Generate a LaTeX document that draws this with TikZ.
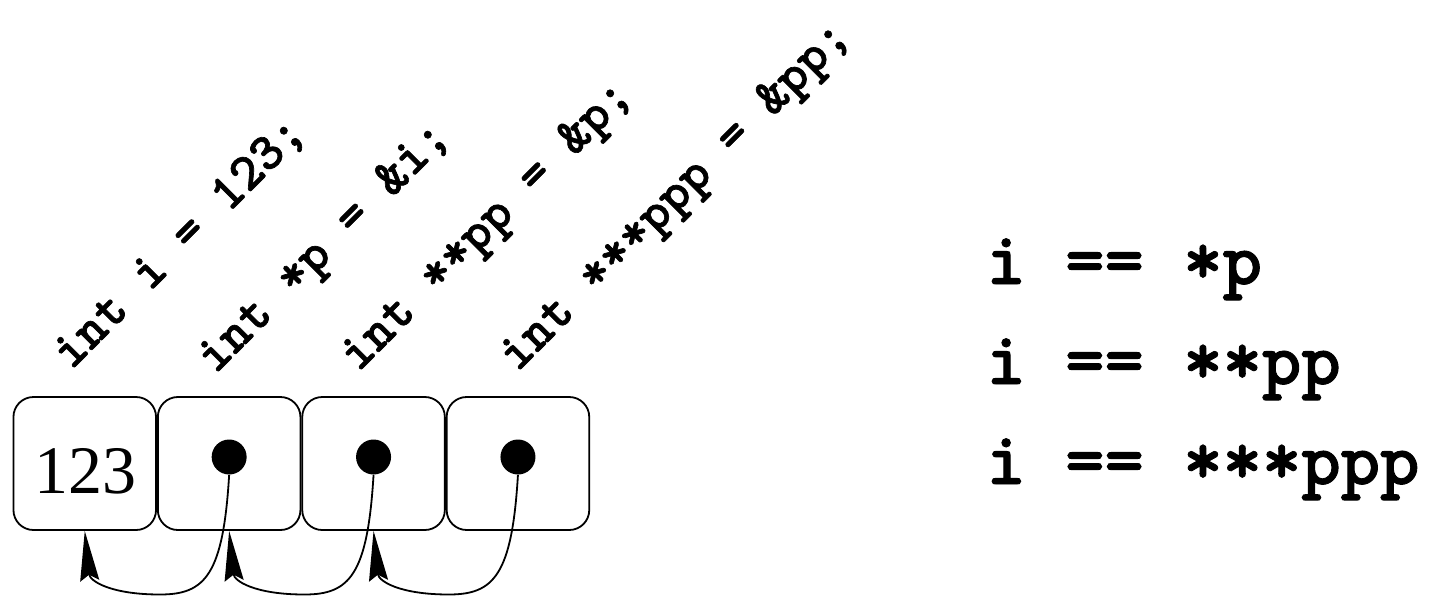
\documentclass[tikz,border=0pt]{standalone}
\usepackage{fontspec}
\setmainfont{Liberation Serif}
\newfontfamily\codefont{lmmonolt10-bold.otf}[FakeBold=1.2]
\usepackage{tikz}
\usetikzlibrary{arrows.meta, positioning, calc}

\begin{document}
\begin{tikzpicture}[x=0.5pt, y=0.5pt,
    memcell/.style={draw, line width=0.9pt, rounded corners=10pt, minimum width=71.3pt,
        minimum height=66.5pt, inner sep=0pt},
    ptrdot/.style={circle, fill=black, minimum size=17.5pt, inner sep=0pt},
    decl/.style={rotate=45, anchor=base west, inner sep=0pt,
        font=\codefont\fontsize{26.5}{30}\selectfont},
    rel/.style={anchor=base west, inner sep=0pt,
        font=\codefont\fontsize{37.5}{42}\selectfont},
    ptr/.style={line width=0.9pt, -{Stealth[length=25pt, width=9.5pt, inset=3pt]}}
]
\useasboundingbox (0,0) rectangle (1442,-596);

% --- memory cells ---
\node[memcell] (ci) at (84.75,-463.5) {};
\node[memcell, right=0pt of ci] (cp) {};
\node[memcell, right=0pt of cp] (cpp) {};
\node[memcell, right=0pt of cpp] (cppp) {};

\node[font=\fontsize{34}{38}\selectfont] (val) at ($(ci.center)+(1,-8)$) {123};
\node[ptrdot] (dp) at ($(cp.center)+(0,6.5)$) {};
\node[ptrdot] (dpp) at ($(cpp.center)+(0,6.5)$) {};
\node[ptrdot] (dppp) at ($(cppp.center)+(0,6.5)$) {};

% --- declarations ---
\node[decl] (deci) at (71,-371) {int i = 123;};
\node[decl] (decp) at (215,-375) {int *p = \&i;};
\node[decl] (decpp) at (358,-373) {int **pp = \&p;};
\node[decl] (decppp) at (517,-373) {int ***ppp = \&pp;};

% --- pointers ---
\foreach \src/\dst in {dp/ci, dpp/cp, dppp/cpp} {
    \coordinate (low) at ($(\src.center)+(-69,-137.5)$);
    \draw[ptr] (\src.south) .. controls +(-6,-100) and +(45,0) .. (low)
        .. controls +(-50,0) and +(5,-50) .. (\dst.south);
}

% --- relations ---
\node[rel] (eq1) at (986,-284) {i == *p};
\node[rel] (eq2) at (986,-384) {i == **pp};
\node[rel] (eq3) at (986,-484) {i == ***ppp};

\end{tikzpicture}
\end{document}
